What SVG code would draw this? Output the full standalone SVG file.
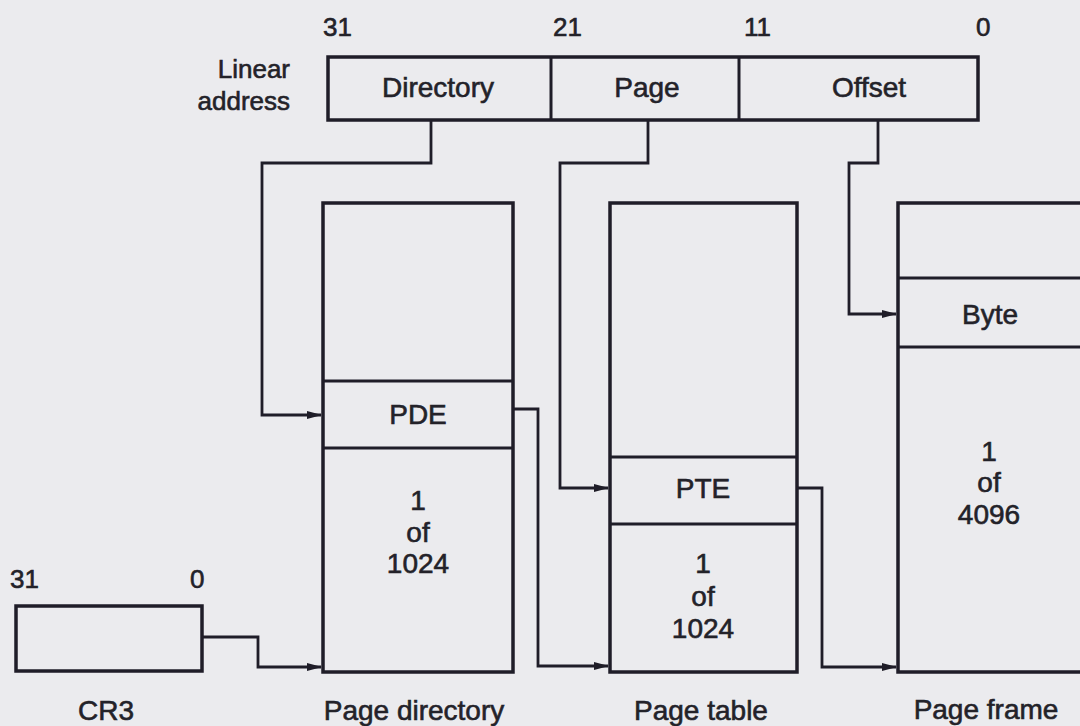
<svg xmlns="http://www.w3.org/2000/svg" width="1080" height="726" viewBox="0 0 1080 726">
<defs>
<style>
.bg{fill:#ebebee}
.box{fill:none;stroke:#1f1d28;stroke-width:3.5}
.div{stroke:#1f1d28;stroke-width:3}
.con{fill:none;stroke:#1f1d28;stroke-width:2.8}
text{font-family:"Liberation Sans",Arial,sans-serif;font-size:28px;fill:#232229;stroke:#232229;stroke-width:0.6}
.m{text-anchor:middle}
.e{text-anchor:end}
.s{font-size:26px}
</style>
<marker id="ah" markerUnits="userSpaceOnUse" markerWidth="15" markerHeight="10" refX="14" refY="5" orient="auto">
<path d="M0,1 L15,5 L0,9 Z" fill="#1f1d28"/>
</marker>
</defs>
<rect class="bg" x="0" y="0" width="1080" height="726"/>

<g id="linear-address">
<text class="e s" x="290" y="78">Linear</text>
<text class="e s" x="290" y="110">address</text>
<text class="s" x="323" y="36">31</text>
<text class="s" x="553" y="36">21</text>
<text class="s" x="744" y="36">11</text>
<text class="s" x="976" y="36">0</text>
<rect class="box" x="328" y="57" width="650" height="63"/>
<line class="div" x1="551" y1="57" x2="551" y2="120"/>
<line class="div" x1="739" y1="57" x2="739" y2="120"/>
<text class="m" x="438" y="97">Directory</text>
<text class="m" x="647" y="97">Page</text>
<text class="m" x="869" y="97">Offset</text>
</g>

<g id="cr3">
<text class="s" x="10" y="588">31</text>
<text class="s" x="190" y="588">0</text>
<rect class="box" x="16" y="606" width="186" height="65"/>
<text class="m" x="106" y="720">CR3</text>
</g>

<g id="page-directory">
<rect class="box" x="323" y="203" width="190" height="469"/>
<line class="div" x1="323" y1="381" x2="513" y2="381"/>
<line class="div" x1="323" y1="448" x2="513" y2="448"/>
<text class="m" x="418" y="424">PDE</text>
<text class="m" x="418" y="510">1</text>
<text class="m" x="418" y="542">of</text>
<text class="m" x="418" y="573">1024</text>
<text class="m" x="414" y="720">Page directory</text>
</g>

<g id="page-table">
<rect class="box" x="610" y="203" width="187" height="469"/>
<line class="div" x1="610" y1="457" x2="797" y2="457"/>
<line class="div" x1="610" y1="524" x2="797" y2="524"/>
<text class="m" x="703" y="498">PTE</text>
<text class="m" x="703" y="573">1</text>
<text class="m" x="703" y="606">of</text>
<text class="m" x="703" y="638">1024</text>
<text class="m" x="701" y="720">Page table</text>
</g>

<g id="page-frame">
<path class="box" d="M1084,203 H898 V672 H1084"/>
<line class="div" x1="898" y1="278" x2="1080" y2="278"/>
<line class="div" x1="898" y1="347" x2="1080" y2="347"/>
<text class="m" x="990" y="324">Byte</text>
<text class="m" x="989" y="461">1</text>
<text class="m" x="989" y="492">of</text>
<text class="m" x="989" y="524">4096</text>
<text class="m" x="986" y="719">Page frame</text>
</g>

<g id="connectors">
<path class="con" d="M431,120 V163 H262 V415 H321" marker-end="url(#ah)"/>
<path class="con" d="M648,120 V163 H560 V488 H608" marker-end="url(#ah)"/>
<path class="con" d="M878,120 V163 H849 V314 H896" marker-end="url(#ah)"/>
<path class="con" d="M202,637 H258 V667 H321" marker-end="url(#ah)"/>
<path class="con" d="M513,409 H538 V666 H608" marker-end="url(#ah)"/>
<path class="con" d="M797,488 H822 V667 H896" marker-end="url(#ah)"/>
</g>
</svg>
